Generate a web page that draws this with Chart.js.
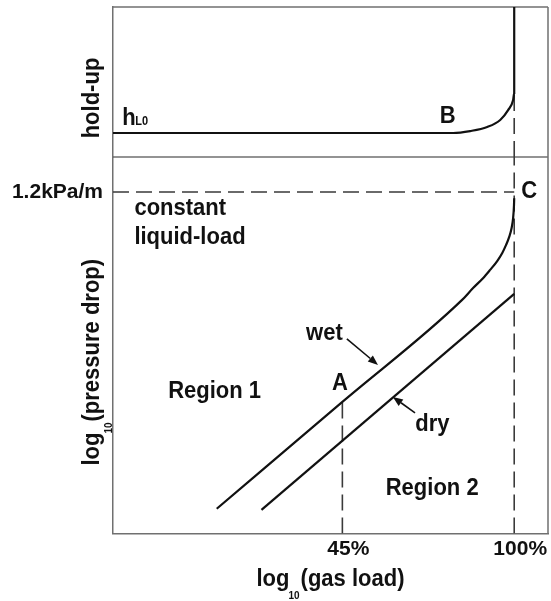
<!DOCTYPE html>
<html><head><meta charset="utf-8">
<script src="https://cdn.jsdelivr.net/npm/chart.js@4"></script>
<style>html,body{margin:0;padding:0;background:#fff}#wrap{width:551px;height:601px;position:relative}</style>
</head><body><div id="wrap"><canvas id="c"></canvas></div>
<script>
// Gas load (% of flooding load, log axis), pressure drop (kPa/m, log axis), liquid hold-up (relative)
const xMin = 15.5, xMax = 117;
const dpMin = 0.03, dpMax = 1.75;
const holdMin = 0, holdMax = 1;

const xTicks = [45, 100];
const xTickLabels = ['45%', '100%'];
const yTicks = [1.2];
const yTickLabels = ['1.2kPa/m'];

const holdupX = [15.5, 75.3, 81.5, 88.2, 93.7, 97.2, 99.5, 100, 100];
const holdupY = [0.16, 0.16, 0.173, 0.20, 0.247, 0.313, 0.38, 0.427, 1.0];

const wetX = [25.1, 45, 78.5, 82.6, 86.6, 89.4, 92.4, 94.6, 96.3, 97.7, 98.8, 99.5, 99.9, 100];
const wetY = [0.0392, 0.1243, 0.374, 0.425, 0.474, 0.517, 0.569, 0.621, 0.677, 0.738, 0.813, 0.906, 1.04, 1.12];

const dryX = [30.9, 100];
const dryY = [0.0387, 0.399];

const floodLoad = 100;      // C, 100 %
const pointALoad = 45;      // A, 45 %
const pointADp = 0.1243;
const limitDp = 1.2;        // 1.2 kPa/m
const holdupAtFlood = 0.427;

const labelTexts = ['B', 'C', 'constant', 'liquid-load', 'wet', 'A', 'dry', 'Region 1', 'Region 2'];
const labelX = [73.4, 103.3, 17.12, 17.12, 41.4, 44.5, 68.4, 24.85, 68.3];
const labelY = [0.2267, 1.124, 0.9357, 0.684, 0.2427, 0.1415, 0.0912, 0.1302, 0.0456];
const labelAxis = ['yTop', 'yBot', 'yBot', 'yBot', 'yBot', 'yBot', 'yBot', 'yBot', 'yBot'];
const labelAlign = ['center', 'left', 'left', 'left', 'center', 'center', 'center', 'center', 'center'];

const arrowFromX = [45.95, 63.07], arrowFromY = [0.2453, 0.1104];
const arrowToX = [53.1, 56.9], arrowToY = [0.1853, 0.1312];

const FONT = '"Liberation Sans", Arial, Helvetica, sans-serif';
const INK = '#111';
const FRAME = '#707070';
const DASH = '#3a3a3a';

function pts(xs, ys) { return xs.map((x, i) => ({x: x, y: ys[i]})); }

function solid(data, axis, mono) {
  return {data: data, yAxisID: axis, borderColor: INK, borderWidth: 2.2, pointRadius: 0,
    fill: false, cubicInterpolationMode: mono ? 'monotone' : 'default', tension: 0};
}
function dashed(data, axis) {
  return {data: data, yAxisID: axis, borderColor: DASH, borderWidth: 1.6, borderDash: [16, 7],
    pointRadius: 0, fill: false, tension: 0};
}

const datasets = [
  solid(pts(holdupX, holdupY), 'yTop', true),
  solid(pts(wetX, wetY), 'yBot', true),
  solid(pts(dryX, dryY), 'yBot', false),
  dashed([{x: xMin, y: limitDp}, {x: floodLoad, y: limitDp}], 'yBot'),
  dashed([{x: floodLoad, y: dpMin}, {x: floodLoad, y: dpMax}], 'yBot'),
  dashed([{x: floodLoad, y: holdMin}, {x: floodLoad, y: holdupAtFlood}], 'yTop'),
  dashed([{x: pointALoad, y: dpMin}, {x: pointALoad, y: pointADp}], 'yBot')
];

function textFont(size) { return 'bold ' + size + 'px ' + FONT; }

// draws runs of text along a baseline; rot = 0 (horizontal) or -PI/2 (upwards)
function drawRuns(ctx, x, y, rot, runs, stretch) {
  ctx.save();
  ctx.translate(x, y);
  ctx.rotate(rot);
  ctx.scale(1, stretch);
  ctx.fillStyle = INK;
  ctx.textBaseline = 'alphabetic';
  ctx.textAlign = 'left';
  let total = 0;
  runs.forEach(r => { ctx.font = textFont(r.size); total += ctx.measureText(r.text).width + (r.gap || 0); });
  let cx = -total / 2;
  runs.forEach(r => {
    ctx.font = textFont(r.size);
    ctx.fillText(r.text, cx, r.dy || 0);
    cx += ctx.measureText(r.text).width + (r.gap || 0);
  });
  ctx.restore();
}

function noPad(s) { s.paddingTop = 0; s.paddingBottom = 0; s.paddingLeft = 0; s.paddingRight = 0; }

const decor = {
  id: 'decor',
  beforeDatasetsDraw(chart) {
    const ctx = chart.ctx, a = chart.chartArea, yBot = chart.scales.yBot;
    ctx.save();
    ctx.strokeStyle = FRAME;
    ctx.lineWidth = 1.5;
    ctx.beginPath();
    ctx.moveTo(a.left, a.top); ctx.lineTo(a.right, a.top);
    ctx.moveTo(a.right, a.top); ctx.lineTo(a.right, a.bottom);
    ctx.moveTo(a.left, yBot.top); ctx.lineTo(a.right, yBot.top);
    ctx.stroke();
    ctx.restore();
  },
  afterDraw(chart) {
    const ctx = chart.ctx, xs = chart.scales.x, a = chart.chartArea;
    const yTop = chart.scales.yTop, yBot = chart.scales.yBot;
    const S = 1.1;
    // point labels
    labelTexts.forEach((t, i) => {
      const sc = chart.scales[labelAxis[i]];
      const px = xs.getPixelForValue(labelX[i]);
      const py = sc.getPixelForValue(labelY[i]);
      ctx.save();
      ctx.translate(px, py);
      ctx.scale(1, S);
      ctx.font = textFont(22);
      ctx.fillStyle = INK;
      ctx.textAlign = labelAlign[i];
      ctx.textBaseline = 'alphabetic';
      ctx.fillText(t, 0, 0);
      ctx.restore();
    });
    // h_L0
    {
      const px = xs.getPixelForValue(16.19), py = yTop.getPixelForValue(0.2133);
      ctx.save();
      ctx.translate(px, py);
      ctx.scale(1, S);
      ctx.fillStyle = INK; ctx.textAlign = 'left'; ctx.textBaseline = 'alphabetic';
      ctx.font = textFont(22);
      ctx.fillText('h', 0, 0);
      const w = ctx.measureText('h').width;
      ctx.font = textFont(11);
      ctx.fillText('L0', w - 0.5, 0);
      ctx.restore();
    }
    // arrows
    arrowFromX.forEach((fx, i) => {
      const x1 = xs.getPixelForValue(fx), y1 = yBot.getPixelForValue(arrowFromY[i]);
      const x2 = xs.getPixelForValue(arrowToX[i]), y2 = yBot.getPixelForValue(arrowToY[i]);
      const ang = Math.atan2(y2 - y1, x2 - x1);
      const L = 10, W = 4;
      const bx = x2 - L * Math.cos(ang), by = y2 - L * Math.sin(ang);
      ctx.save();
      ctx.strokeStyle = INK; ctx.fillStyle = INK; ctx.lineWidth = 1.6;
      ctx.beginPath(); ctx.moveTo(x1, y1); ctx.lineTo(bx, by); ctx.stroke();
      ctx.beginPath();
      ctx.moveTo(x2, y2);
      ctx.lineTo(bx + W * Math.sin(ang), by - W * Math.cos(ang));
      ctx.lineTo(bx - W * Math.sin(ang), by + W * Math.cos(ang));
      ctx.closePath(); ctx.fill();
      ctx.restore();
    });
    // axis titles
    const baseX = a.left - 14;
    drawRuns(ctx, baseX, yTop.top + (yTop.bottom - yTop.top) / 2 + 16, -Math.PI / 2,
      [{text: 'hold-up', size: 22}], S);
    drawRuns(ctx, baseX, yBot.top + (yBot.bottom - yBot.top) / 2 + 17, -Math.PI / 2,
      [{text: 'log', size: 22, gap: -1}, {text: '10', size: 10, dy: 12, gap: 1}, {text: '(pressure drop)', size: 22}], S);
    drawRuns(ctx, (a.left + a.right) / 2, a.bottom + 52, 0,
      [{text: 'log', size: 22, gap: -1}, {text: '10', size: 10, dy: 12, gap: 1}, {text: '(gas load)', size: 22}], S);
  }
};

new Chart(document.getElementById('c'), {
  type: 'line',
  data: {datasets: datasets},
  options: {
    responsive: true,
    maintainAspectRatio: false,
    animation: false,
    events: [],
    layout: {padding: {top: 7, right: 3, left: 0, bottom: 0}},
    plugins: {legend: {display: false}, tooltip: {enabled: false}, title: {display: false}},
    scales: {
      x: {
        type: 'logarithmic', position: 'bottom', min: xMin, max: xMax,
        grid: {display: false, drawTicks: false},
        border: {display: true, color: FRAME, width: 1.5},
        afterBuildTicks: s => { s.ticks = xTicks.map(v => ({value: v})); },
        afterFit: s => { s.height = 67.5; noPad(s); },
        ticks: {
          autoSkip: false, maxRotation: 0, padding: 3, labelOffset: 6,
          color: INK, font: {family: FONT, size: 21, weight: 'bold'},
          callback: (v) => { const i = xTicks.indexOf(v); return i >= 0 ? xTickLabels[i] : ''; }
        }
      },
      yBot: {
        type: 'logarithmic', position: 'left', stack: 'v', stackWeight: 376.5,
        min: dpMin, max: dpMax,
        grid: {display: false, drawTicks: false},
        border: {display: true, color: FRAME, width: 1.5},
        afterBuildTicks: s => { s.ticks = yTicks.map(v => ({value: v})); },
        afterFit: s => { s.width = 113; noPad(s); },
        ticks: {
          autoSkip: false, padding: 10, color: INK,
          font: {family: FONT, size: 21, weight: 'bold'},
          callback: (v) => { const i = yTicks.indexOf(v); return i >= 0 ? yTickLabels[i] : ''; }
        }
      },
      yTop: {
        type: 'linear', position: 'left', stack: 'v', stackWeight: 150,
        min: holdMin, max: holdMax,
        grid: {display: false, drawTicks: false},
        border: {display: true, color: FRAME, width: 1.5},
        ticks: {display: false},
        afterFit: s => { s.width = 113; noPad(s); }
      }
    }
  },
  plugins: [decor]
});
</script>
</body></html>
